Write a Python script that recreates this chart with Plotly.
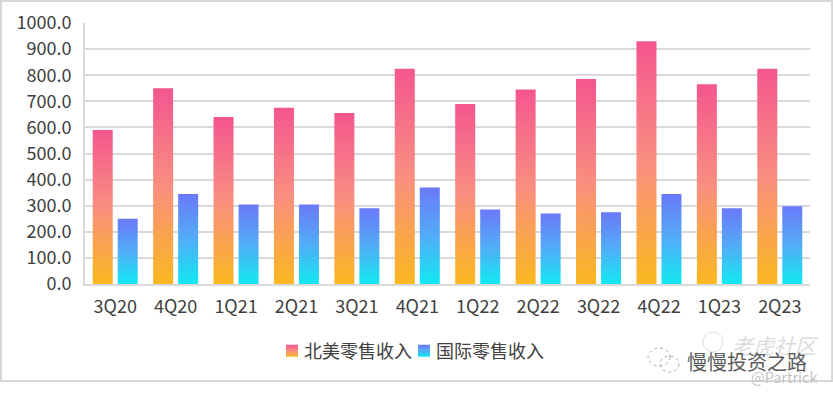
import plotly.graph_objects as go

categories = ["3Q20","4Q20","1Q21","2Q21","3Q21","4Q21","1Q22","2Q22","3Q22","4Q22","1Q23","2Q23"]
north_america = [590,750,640,675,655,825,690,745,785,930,765,825]
international = [250,345,305,305,290,370,285,270,275,345,290,298]
name_na = "北美零售收入"
name_intl = "国际零售收入"

W, H = 833, 395
L, R, T, B = 85, 810, 23, 284
FONT = "Noto Sans CJK SC, Noto Sans, sans-serif"
TXT = "#404040"
GRID = "#d9d9d9"

fig = go.Figure()
fig.add_bar(x=categories, y=north_america, name=name_na, marker=dict(color="#f7809a", line_width=0))
fig.add_bar(x=categories, y=international, name=name_intl, marker=dict(color="#4fb4f5", line_width=0))

def px(x): return x / W
def py(y): return 1 - y / H

def ring(x0, x1, y0, y1, color, width=1, dash="solid"):
    return dict(type="circle", xref="paper", yref="paper", x0=px(x0), x1=px(x1), y0=py(y1), y1=py(y0),
                line=dict(color=color, width=width, dash=dash), fillcolor="rgba(0,0,0,0)")

fig.update_layout(
    width=W, height=H, autosize=False,
    paper_bgcolor="white", plot_bgcolor="white",
    margin=dict(l=0, r=0, t=0, b=0, autoexpand=False),
    barmode="group", bargap=0.172, bargroupgap=0.2,
    font=dict(family=FONT, color=TXT, size=18),
    showlegend=True,
    legend=dict(orientation="h", x=px(264), xanchor="left", y=py(351), yanchor="middle",
                font=dict(size=18, color=TXT), itemwidth=30, itemsizing="constant",
                bgcolor="rgba(0,0,0,0)", traceorder="normal"),
    xaxis=dict(domain=[px(L), px(R)], anchor="y", showgrid=False, showline=True, linecolor=GRID, linewidth=2,
               ticks="", tickfont=dict(size=18, color=TXT), ticklabelstandoff=5, automargin=False),
    yaxis=dict(domain=[py(B), py(T)], anchor="x", range=[0, 1000], dtick=100, tickformat=".1f",
               showgrid=True, gridcolor=GRID, gridwidth=2, showline=True, linecolor=GRID, linewidth=2,
               ticks="", tickfont=dict(size=18, color=TXT), ticklabelstandoff=8, zeroline=False, automargin=False),
    shapes=[
        dict(type="rect", xref="paper", yref="paper", x0=px(1), x1=px(832), y0=py(1), y1=py(381),
             line=dict(color="#d8d8d8", width=2), fillcolor="rgba(0,0,0,0)", layer="below"),
        ring(648, 670, 348, 366, "#a8a8a8", 1, "dot"),
        ring(660, 679, 356, 372, "#a8a8a8", 1, "dot"),
        ring(703, 723, 332, 352, "#e0e0e0", 1),
    ],
    annotations=[
        dict(text="<i>老虎社区</i>", xref="paper", yref="paper", x=px(775), y=py(345), showarrow=False,
             xanchor="center", yanchor="middle", font=dict(size=21, color="#dcdcdc", family=FONT)),
        dict(text="慢慢投资之路", xref="paper", yref="paper", x=px(747), y=py(361), showarrow=False,
             xanchor="center", yanchor="middle", font=dict(size=20, color="#5a5a5a", family=FONT)),
        dict(text="@Partrick", xref="paper", yref="paper", x=px(784), y=py(376), showarrow=False,
             xanchor="center", yanchor="middle", font=dict(size=14.5, color="#c4c4c4", family=FONT)),
    ],
)

post = """
document.documentElement.style.margin = '0';
document.body.style.margin = '0';
document.body.style.padding = '0';
var gd = document.querySelector('.plotly-graph-div');
gd.style.position = 'absolute'; gd.style.left = '0'; gd.style.top = '0';
var ns = 'http://www.w3.org/2000/svg';
function grad(defs, id, a, m, b){
  if (document.getElementById(id)) return;
  var g = document.createElementNS(ns,'linearGradient');
  g.setAttribute('id', id); g.setAttribute('x1','0'); g.setAttribute('y1','1'); g.setAttribute('x2','0'); g.setAttribute('y2','0');
  [[0,a],[0.5,m],[1,b]].forEach(function(s){
    var st = document.createElementNS(ns,'stop');
    st.setAttribute('offset', s[0]); st.setAttribute('stop-color', s[1]); g.appendChild(st);
  });
  defs.appendChild(g);
}
function paint(){
  var svg = gd.querySelector('.main-svg');
  var defs = svg.querySelector('defs') || svg.insertBefore(document.createElementNS(ns,'defs'), svg.firstChild);
  grad(defs,'gNA','#fab820','#f98e80','#f4568f');
  grad(defs,'gIN','#12e9f2','#52acf7','#6a79f9');
  var ids = ['gNA','gIN'];
  gd.querySelectorAll('.barlayer .trace.bars').forEach(function(t,i){
    t.querySelectorAll('path').forEach(function(p){ p.style.fill = 'url(#'+ids[i]+')'; });
  });
  gd.querySelectorAll('.legend .traces').forEach(function(t,i){
    t.querySelectorAll('.legendpoints path').forEach(function(p){
      p.style.fill = 'url(#'+ids[i]+')';
      p.setAttribute('transform', 'translate(28,0)');
    });
    if (i === 1) {
      var m = /translate\\(([-\\d.]+)[ ,]*([-\\d.]*)\\)/.exec(t.getAttribute('transform'));
      t.setAttribute('transform', 'translate(' + (parseFloat(m[1]) - 21) + ',' + (m[2] || 0) + ')');
    }
  });
}
Plotly.relayout(gd, {width: 833, height: 395}).then(paint);
"""
fig.write_html("out.html", post_script=post, config={"responsive": False, "displayModeBar": False})
